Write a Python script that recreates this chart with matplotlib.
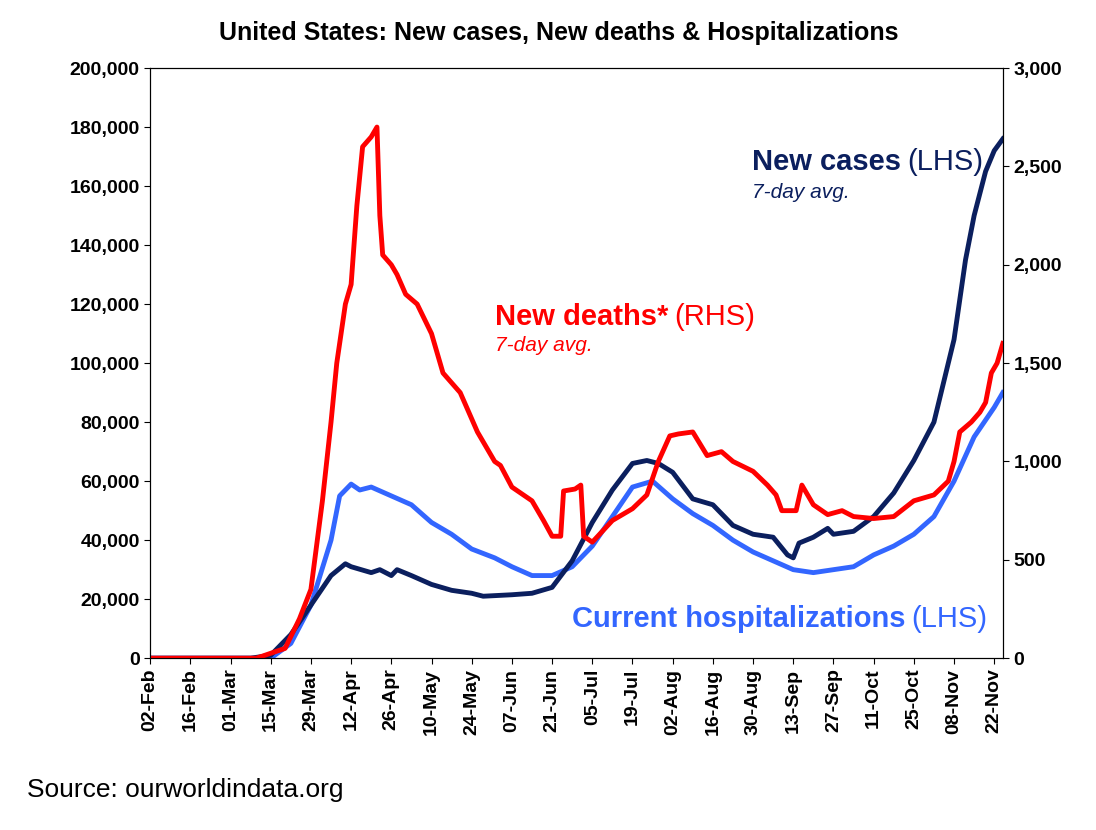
import pandas as pd
import matplotlib
matplotlib.use('Agg')
import matplotlib.pyplot as plt
import matplotlib.dates as mdates
from matplotlib.ticker import FuncFormatter

plt.rcParams['font.family'] = ['Liberation Sans', 'DejaVu Sans']

casos = {
    '2020-02-02': 0, '2020-03-08': 0, '2020-03-15': 1000, '2020-03-22': 8000,
    '2020-03-29': 18000, '2020-04-05': 28000, '2020-04-10': 32000, '2020-04-12': 31000,
    '2020-04-19': 29000, '2020-04-22': 30000, '2020-04-26': 28000, '2020-04-28': 30000,
    '2020-05-03': 28000, '2020-05-10': 25000, '2020-05-17': 23000, '2020-05-24': 22000,
    '2020-05-28': 21000, '2020-06-07': 21500, '2020-06-14': 22000, '2020-06-21': 24000,
    '2020-06-28': 33000, '2020-07-05': 46000, '2020-07-12': 57000, '2020-07-19': 66000,
    '2020-07-24': 67000, '2020-07-28': 66000, '2020-08-02': 63000, '2020-08-09': 54000,
    '2020-08-16': 52000, '2020-08-23': 45000, '2020-08-30': 42000, '2020-09-06': 41000,
    '2020-09-11': 35000, '2020-09-13': 34000, '2020-09-15': 39000, '2020-09-20': 41000,
    '2020-09-25': 44000, '2020-09-27': 42000, '2020-10-04': 43000, '2020-10-11': 48000,
    '2020-10-18': 56000, '2020-10-25': 67000, '2020-11-01': 80000, '2020-11-08': 108000,
    '2020-11-12': 135000, '2020-11-15': 150000, '2020-11-19': 165000, '2020-11-22': 172000,
    '2020-11-25': 176000,
}

mortes = {
    '2020-02-02': 0, '2020-03-10': 0, '2020-03-20': 50, '2020-03-25': 200,
    '2020-03-29': 350, '2020-04-02': 800, '2020-04-05': 1200, '2020-04-07': 1500,
    '2020-04-10': 1800, '2020-04-12': 1900, '2020-04-14': 2300, '2020-04-16': 2600,
    '2020-04-19': 2650, '2020-04-21': 2700, '2020-04-22': 2250, '2020-04-23': 2050,
    '2020-04-26': 2000, '2020-04-28': 1950, '2020-05-01': 1850, '2020-05-05': 1800,
    '2020-05-10': 1650, '2020-05-14': 1450, '2020-05-20': 1350, '2020-05-26': 1150,
    '2020-06-01': 1000, '2020-06-03': 980, '2020-06-07': 870, '2020-06-14': 800,
    '2020-06-18': 700, '2020-06-21': 620, '2020-06-24': 620, '2020-06-25': 850,
    '2020-06-29': 860, '2020-07-01': 880, '2020-07-02': 620, '2020-07-05': 590,
    '2020-07-12': 700, '2020-07-19': 760, '2020-07-24': 830, '2020-07-28': 1000,
    '2020-08-01': 1130, '2020-08-04': 1140, '2020-08-09': 1150, '2020-08-14': 1030,
    '2020-08-19': 1050, '2020-08-23': 1000, '2020-08-30': 950, '2020-09-04': 880,
    '2020-09-07': 830, '2020-09-09': 750, '2020-09-14': 750, '2020-09-16': 880,
    '2020-09-20': 780, '2020-09-25': 730, '2020-09-30': 750, '2020-10-04': 720,
    '2020-10-11': 710, '2020-10-18': 720, '2020-10-25': 800, '2020-11-01': 830,
    '2020-11-06': 900, '2020-11-08': 1000, '2020-11-10': 1150, '2020-11-14': 1200,
    '2020-11-17': 1250, '2020-11-19': 1300, '2020-11-21': 1450, '2020-11-23': 1500,
    '2020-11-25': 1600,
}

hosp = {
    '2020-02-02': 0, '2020-03-15': 0, '2020-03-22': 5000, '2020-03-29': 18000,
    '2020-04-05': 40000, '2020-04-08': 55000, '2020-04-12': 59000, '2020-04-15': 57000,
    '2020-04-19': 58000, '2020-04-26': 55000, '2020-05-03': 52000, '2020-05-10': 46000,
    '2020-05-17': 42000, '2020-05-24': 37000, '2020-06-01': 34000, '2020-06-07': 31000,
    '2020-06-14': 28000, '2020-06-21': 28000, '2020-06-28': 31000, '2020-07-05': 38000,
    '2020-07-12': 48000, '2020-07-19': 58000, '2020-07-26': 60000, '2020-08-02': 54000,
    '2020-08-09': 49000, '2020-08-16': 45000, '2020-08-23': 40000, '2020-08-30': 36000,
    '2020-09-06': 33000, '2020-09-13': 30000, '2020-09-20': 29000, '2020-09-27': 30000,
    '2020-10-04': 31000, '2020-10-11': 35000, '2020-10-18': 38000, '2020-10-25': 42000,
    '2020-11-01': 48000, '2020-11-08': 60000, '2020-11-15': 75000, '2020-11-22': 85000,
    '2020-11-25': 90000,
}

def serie(d):
    return pd.Series(list(d.values()), index=pd.to_datetime(list(d.keys())))

c, m, h = serie(casos), serie(mortes), serie(hosp)

fig = plt.figure(figsize=(10.96, 8.3), dpi=100)
ax = fig.add_axes([0.137, 0.207, 0.778, 0.711])
ax2 = ax.twinx()

ax.plot(h.index, h.values, color='#3366ff', lw=3.5)
ax.plot(c.index, c.values, color='#0b1f5e', lw=3.5)
ax2.plot(m.index, m.values, color='#ff0000', lw=3.5)

ax.set_ylim(0, 200000)
ax.set_yticks(range(0, 200001, 20000))
ax2.set_ylim(0, 3000)
ax2.set_yticks(range(0, 3001, 500))
ax.set_xlim(pd.Timestamp('2020-02-02'), pd.Timestamp('2020-11-25'))
ax.set_xticks(pd.date_range('2020-02-02', '2020-11-25', freq='14D'))
ax.xaxis.set_major_formatter(mdates.DateFormatter('%d-%b'))
ax.yaxis.set_major_formatter(FuncFormatter(lambda v, p: f'{int(v):,}'))
ax2.yaxis.set_major_formatter(FuncFormatter(lambda v, p: f'{int(v):,}'))

for lab in ax.get_xticklabels():
    lab.set_rotation(90)
for a in (ax, ax2):
    a.tick_params(labelsize=14, length=4)
    for lab in a.get_xticklabels() + a.get_yticklabels():
        lab.set_fontweight('bold')

fig.suptitle('United States: New cases, New deaths & Hospitalizations',
             x=0.51, y=0.975, fontsize=18, fontweight='bold')

ax.text(0.706, 0.827, 'New cases', transform=ax.transAxes, fontsize=21,
        fontweight='bold', color='#0b1f5e')
ax.text(0.888, 0.827, '(LHS)', transform=ax.transAxes, fontsize=21, color='#0b1f5e')
ax.text(0.706, 0.78, '7-day avg.', transform=ax.transAxes, fontsize=15,
        style='italic', color='#0b1f5e')
ax.text(0.405, 0.565, 'New deaths*', transform=ax.transAxes, fontsize=21,
        fontweight='bold', color='#ff0000')
ax.text(0.615, 0.565, '(RHS)', transform=ax.transAxes, fontsize=21, color='#ff0000')
ax.text(0.405, 0.52, '7-day avg.', transform=ax.transAxes, fontsize=15,
        style='italic', color='#ff0000')
ax.text(0.495, 0.053, 'Current hospitalizations', transform=ax.transAxes, fontsize=21,
        fontweight='bold', color='#3366ff')
ax.text(0.893, 0.053, '(LHS)', transform=ax.transAxes, fontsize=21, color='#3366ff')

fig.text(0.025, 0.04, 'Source: ourworldindata.org', fontsize=19)

fig.savefig('out.png', dpi=100)
